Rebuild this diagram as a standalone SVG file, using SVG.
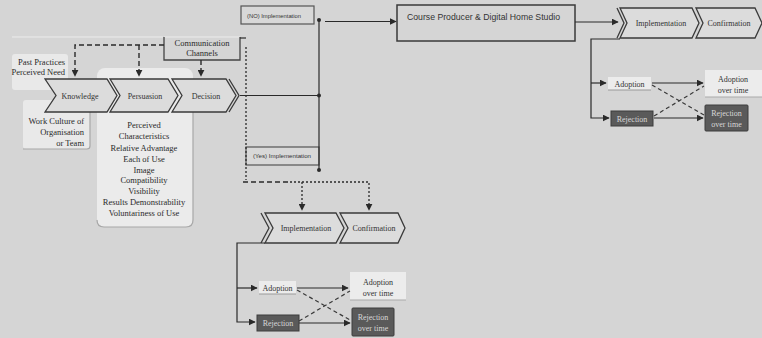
<svg xmlns="http://www.w3.org/2000/svg" width="762" height="338" viewBox="0 0 762 338">
<defs>
<marker id="ah" viewBox="0 0 10 10" refX="9" refY="5" markerWidth="7" markerHeight="7" markerUnits="userSpaceOnUse" orient="auto">
<path d="M0,0 L10,5 L0,10 z" fill="#2a2a2a"/>
</marker>
<style>
.bg{fill:#d5d5d5}
.chev{fill:#dcdcdc;stroke:#3a3a3a;stroke-width:1.3;stroke-linejoin:miter}
.chl{fill:none;stroke:#3a3a3a;stroke-width:1.3}
.lbl{font-family:"Liberation Serif",serif;font-size:8px;fill:#333;text-anchor:middle}
.ser{font-family:"Liberation Serif",serif;font-size:8.5px;fill:#2a2a2a}
.sans{font-family:"Liberation Sans",Arial,sans-serif;fill:#333}
.pale{fill:#e9e9e9}
.shadow{fill:none;stroke:#a8a8a8;stroke-width:1.2}
.box{fill:none;stroke:#444;stroke-width:1.3}
.light{fill:#ececec;stroke:none}
.dark{fill:#5a5a5a;stroke:#3c3c3c;stroke-width:1}
.wt{font-family:"Liberation Serif",serif;font-size:8px;fill:#d8d8d8;text-anchor:middle}
.ln{fill:none;stroke:#2a2a2a;stroke-width:1.2}
.dash{fill:none;stroke:#2a2a2a;stroke-width:1.4;stroke-dasharray:5 3}
.dot{fill:none;stroke:#2a2a2a;stroke-width:1.3;stroke-dasharray:2 2}
.dcross{fill:none;stroke:#3a3a3a;stroke-width:1.2;stroke-dasharray:4 3}
</style>
</defs>
<rect class="bg" x="0" y="0" width="762" height="338"/>
<line x1="12" y1="37" x2="163" y2="37" stroke="#ececec" stroke-width="1"/>

<g id="past-practices">
<rect class="pale" x="12" y="54" width="56" height="36" rx="3"/>
<text class="ser" text-anchor="end" x="65" y="65">Past Practices</text>
<text class="ser" text-anchor="end" x="65" y="75">Perceived Need</text>
</g>

<g id="work-culture">
<rect class="pale" x="23" y="100" width="67" height="49" rx="3"/>
<path class="shadow" d="M23,149 H87 Q90,149 90,146 V112"/>
<text class="ser" text-anchor="end" x="84" y="124">Work Culture of</text>
<text class="ser" text-anchor="end" x="84" y="135">Organisation</text>
<text class="ser" text-anchor="end" x="84" y="146">or Team</text>
</g>

<g id="perceived-characteristics">
<rect x="97" y="68" width="96" height="159" rx="8" fill="#ebebeb"/>
<path class="shadow" d="M97,220 Q97,227 104,227 H186 Q193,227 193,220 V112"/>
<text class="ser" text-anchor="middle" x="144" y="128">Perceived</text>
<text class="ser" text-anchor="middle" x="144" y="139">Characteristics</text>
<text class="ser" text-anchor="middle" x="144" y="151">Relative Advantage</text>
<text class="ser" text-anchor="middle" x="144" y="162">Each of Use</text>
<text class="ser" text-anchor="middle" x="144" y="173">Image</text>
<text class="ser" text-anchor="middle" x="144" y="183">Compatibility</text>
<text class="ser" text-anchor="middle" x="144" y="194">Visibility</text>
<text class="ser" text-anchor="middle" x="144" y="205">Results Demonstrability</text>
<text class="ser" text-anchor="middle" x="144" y="216">Voluntariness of Use</text>
</g>

<g id="knowledge">
<path class="chev" d="M45,79 H107 L117,95.5 L107,112 H45 L56,95.5 Z"/>
<text class="lbl" x="80" y="98.5">Knowledge</text>
</g>
<g id="persuasion">
<path class="chev" d="M110,79 H168 L178,95.5 L168,112 H110 L120,95.5 Z"/>
<text class="lbl" x="145" y="98.5">Persuasion</text>
</g>
<g id="decision">
<path class="chev" d="M172,79 H226 L236,95.5 L226,112 H172 L182,95.5 Z"/>
<path class="chl" d="M229,79 L239,95.5 L229,112"/>
<text class="lbl" x="206" y="98.5">Decision</text>
</g>

<g id="communication-channels">
<path d="M164,37 H240" stroke="#ececec" stroke-width="1"/>
<path class="box" d="M164,37 V60 H240 V37"/>
<path class="ln" d="M240,38 H246"/>
<text class="ser" text-anchor="middle" x="202" y="46">Communication</text>
<text class="ser" text-anchor="middle" x="202" y="56">Channels</text>
</g>

<g id="no-implementation">
<rect x="241" y="6" width="73" height="18" fill="#d8d8d8" stroke="#555" stroke-width="1.2"/>
<text class="sans" x="247" y="17.5" font-size="6" textLength="54" lengthAdjust="spacingAndGlyphs">(NO) Implementation</text>
</g>

<g id="yes-implementation">
<rect x="246" y="147" width="73" height="18" fill="#d8d8d8" stroke="#555" stroke-width="1.2"/>
<text class="sans" x="253" y="158" font-size="6" textLength="58" lengthAdjust="spacingAndGlyphs">(Yes) Implementation</text>
</g>

<g id="course-producer">
<rect x="397" y="5" width="178" height="36" fill="#d5d5d5" stroke="#3a3a3a" stroke-width="1.5"/>
<text class="sans" x="407" y="19.5" font-size="9.5" textLength="153" lengthAdjust="spacingAndGlyphs">Course Producer &amp; Digital Home Studio</text>
</g>

<g id="implementation-top">
<path class="chev" d="M620,8 H692 L699,23 L692,38 H620 L627,23 Z"/>
<path class="chl" d="M617,8 L624,23 L617,38"/>
<text class="lbl" x="661" y="26">Implementation</text>
</g>
<g id="confirmation-top">
<path class="chev" d="M696,8 H755 L762,23 L755,38 H696 L703,23 Z"/>
<text class="lbl" x="729" y="26">Confirmation</text>
</g>

<g id="adoption-top">
<rect class="light" x="608" y="77" width="43" height="13"/>
<line x1="608" y1="90" x2="651" y2="90" stroke="#999" stroke-width="1.2"/>
<text class="lbl" x="629.5" y="86.5">Adoption</text>
</g>
<g id="rejection-top">
<rect class="dark" x="611" y="111" width="42" height="15"/>
<text class="wt" x="632" y="121.5">Rejection</text>
</g>
<g id="adoption-over-time-top">
<rect class="light" x="705" y="70" width="57" height="27"/>
<line x1="705" y1="97" x2="762" y2="97" stroke="#aaa" stroke-width="1.2"/>
<text class="lbl" x="733" y="82">Adoption</text>
<text class="lbl" x="733" y="93">over time</text>
</g>
<g id="rejection-over-time-top">
<rect class="dark" x="705" y="105" width="43" height="26" rx="1"/>
<text class="wt" x="726.5" y="116">Rejection</text>
<text class="wt" x="726.5" y="127">over time</text>
</g>

<g id="implementation-bottom">
<path class="chev" d="M265,213 H336 L344,228 L336,243 H265 L273,228 Z"/>
<path class="chl" d="M261,213 L269,228 L261,243"/>
<text class="lbl" x="306" y="230.5">Implementation</text>
</g>
<g id="confirmation-bottom">
<path class="chev" d="M340,213 H398 L405,228 L398,243 H340 L348,228 Z"/>
<text class="lbl" x="374" y="230.5">Confirmation</text>
</g>

<g id="adoption-bottom">
<rect class="light" x="259" y="281" width="37" height="13"/>
<line x1="259" y1="294" x2="296" y2="294" stroke="#999" stroke-width="1.2"/>
<text class="lbl" x="277.5" y="290.5">Adoption</text>
</g>
<g id="rejection-bottom">
<rect class="dark" x="257" y="315" width="42" height="16"/>
<text class="wt" x="278" y="326">Rejection</text>
</g>
<g id="adoption-over-time-bottom">
<rect class="light" x="350" y="272" width="56" height="28"/>
<line x1="350" y1="300" x2="406" y2="300" stroke="#aaa" stroke-width="1.2"/>
<text class="lbl" x="378" y="285">Adoption</text>
<text class="lbl" x="378" y="296">over time</text>
</g>
<g id="rejection-over-time-bottom">
<rect class="dark" x="352" y="308" width="42" height="28" rx="1"/>
<text class="wt" x="373" y="320">Rejection</text>
<text class="wt" x="373" y="331">over time</text>
</g>

<g id="connectors">
<path class="dash" d="M164,45 H75 V76" marker-end="url(#ah)"/>
<path class="dash" d="M139,45 V76" marker-end="url(#ah)"/>
<path class="dash" d="M201,60 V76" marker-end="url(#ah)"/>
<path class="dot" d="M246,47 V180"/>
<path class="dash" d="M243,182 H290"/>
<path class="dot" d="M290,182 H369 V210" marker-end="url(#ah)"/>
<path class="dot" d="M302,182 V210" marker-end="url(#ah)"/>
<path class="ln" d="M240,95.5 H319"/>
<path class="ln" d="M319,20 V170"/>
<circle cx="319" cy="20" r="2" fill="#2a2a2a"/>
<circle cx="319" cy="95.5" r="2" fill="#2a2a2a"/>
<circle cx="319" cy="170" r="2" fill="#2a2a2a"/>
<path class="ln" d="M325,21.5 H396" marker-end="url(#ah)"/>
<path class="ln" d="M575,22 H618" marker-end="url(#ah)"/>
<path class="ln" d="M620,39 H591 V118 H609" marker-end="url(#ah)"/>
<path class="ln" d="M591,83 H606" marker-end="url(#ah)"/>
<path class="ln" d="M652,83 H703" marker-end="url(#ah)"/>
<path class="ln" d="M654,118 H703" marker-end="url(#ah)"/>
<path class="dcross" d="M652,85 L704,115"/>
<path class="dcross" d="M654,116 L704,86"/>
<path class="ln" d="M265,243 H237 V322 H255" marker-end="url(#ah)"/>
<path class="ln" d="M237,288 H257" marker-end="url(#ah)"/>
<path class="ln" d="M297,288 H348" marker-end="url(#ah)"/>
<path class="ln" d="M299,323 H350" marker-end="url(#ah)"/>
<path class="dcross" d="M297,290 L350,320"/>
<path class="dcross" d="M299,321 L350,291"/>
</g>
</svg>
